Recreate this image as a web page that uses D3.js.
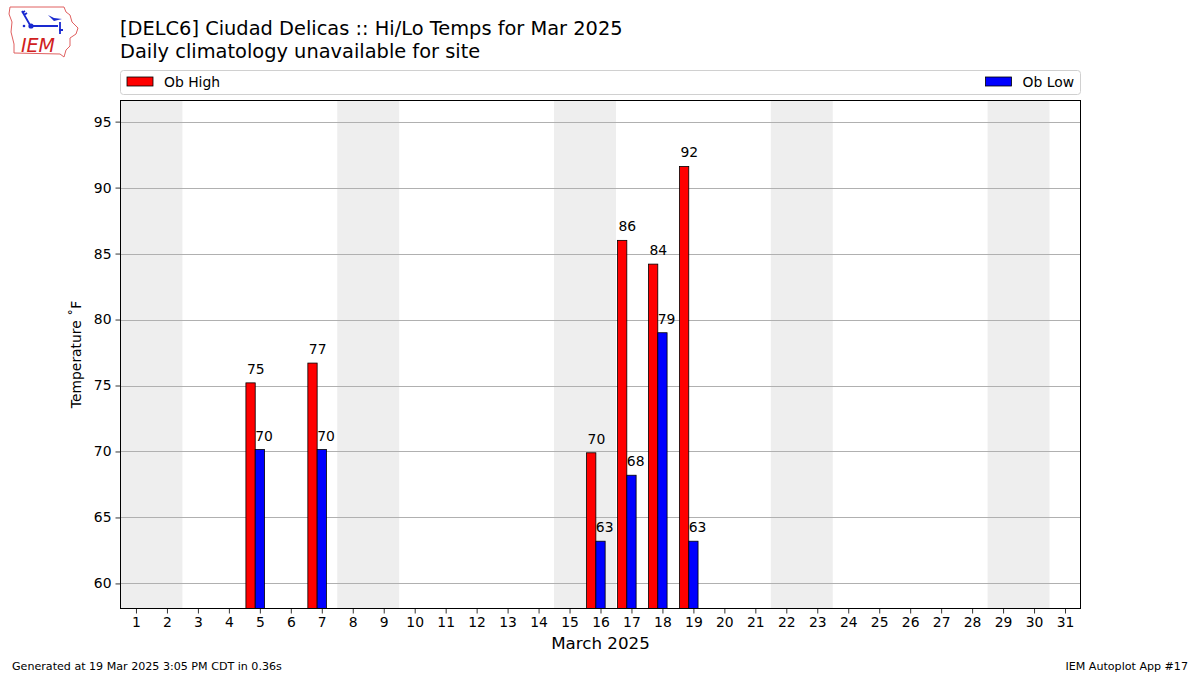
<!DOCTYPE html>
<html><head><meta charset="utf-8">
<script src="https://cdn.jsdelivr.net/npm/d3@7"></script>
<style>
body{margin:0;background:#fff;}
text{font-family:"DejaVu Sans",sans-serif;fill:#000;}
</style></head>
<body><svg id="c" width="1200" height="675"></svg>
<script>
const days = d3.range(1, 32);
const highDays = [5, 7, 16, 17, 18, 19];
const highVals = [75.2, 76.7, 69.9, 86.0, 84.2, 91.6];
const lowDays = [5, 7, 16, 17, 18, 19];
const lowVals = [70.15, 70.15, 63.2, 68.2, 79.0, 63.2];
const weekendStarts = [1, 8, 15, 22, 29];
const yTicks = [60, 65, 70, 75, 80, 85, 90, 95];

const svg = d3.select("#c");
const L = 120.5, R = 1080.5, T = 100.5, B = 608.5;
const x = d3.scaleLinear().domain([0.5, 31.5]).range([L, R]);
const y = d3.scaleLinear().domain([58.1, 96.6]).range([B, T]);
const bw = x(0.3) - x(0);

// weekend shading
svg.append("g").selectAll("rect").data(weekendStarts).join("rect")
  .attr("x", d => x(d - 0.5)).attr("width", d => x(d + 1.5) - x(d - 0.5))
  .attr("y", T).attr("height", B - T).attr("fill", "#eeeeee");

// grid
svg.append("g").selectAll("line").data(yTicks).join("line")
  .attr("x1", L).attr("x2", R).attr("y1", d => Math.round(y(d)) + 0.5).attr("y2", d => Math.round(y(d)) + 0.5)
  .attr("stroke", "#b0b0b0").attr("stroke-width", 1);

// bars
svg.append("g").selectAll("rect").data(highDays.map((d, i) => [d, highVals[i]])).join("rect")
  .attr("x", d => x(d[0] - 0.45)).attr("width", bw)
  .attr("y", d => y(d[1])).attr("height", d => B - y(d[1]))
  .attr("fill", "#ff0000").attr("stroke", "#000").attr("stroke-width", 0.8);
svg.append("g").selectAll("rect").data(lowDays.map((d, i) => [d, lowVals[i]])).join("rect")
  .attr("x", d => x(d[0] - 0.15)).attr("width", bw)
  .attr("y", d => y(d[1])).attr("height", d => B - y(d[1]))
  .attr("fill", "#0000ff").attr("stroke", "#000").attr("stroke-width", 0.8);

// labels
svg.append("g").selectAll("text").data(highDays.map((d, i) => [d, highVals[i]])).join("text")
  .attr("x", d => x(d[0] - 0.45) + 1).attr("y", d => y(d[1]) - 9)
  .attr("font-size", 13.9).text(d => Math.round(d[1]));
svg.append("g").selectAll("text").data(lowDays.map((d, i) => [d, lowVals[i]])).join("text")
  .attr("x", d => x(d[0] - 0.15)).attr("y", d => y(d[1]) - 9)
  .attr("font-size", 13.9).text(d => Math.round(d[1]));

// axes
const xa = svg.append("g").attr("transform", `translate(0,${B})`)
  .call(d3.axisBottom(x).tickValues(days).tickFormat(d3.format("d")).tickSize(5).tickPadding(4));
const ya = svg.append("g").attr("transform", `translate(${L},0)`)
  .call(d3.axisLeft(y).tickValues(yTicks).tickSize(5).tickPadding(4));
[xa, ya].forEach(a => {
  a.select(".domain").remove();
  a.selectAll("text").attr("font-size", 13.9).attr("font-family", "DejaVu Sans").attr("fill", "#000");
  a.selectAll("line").attr("stroke", "#000").attr("stroke-width", 0.8);
});
svg.append("rect").attr("x", L).attr("y", T).attr("width", R - L).attr("height", B - T)
  .attr("fill", "none").attr("stroke", "#000").attr("stroke-width", 1);

// axis labels
svg.append("text").attr("x", x(16)).attr("y", 649).attr("text-anchor", "middle")
  .attr("font-size", 16.7).text("March 2025");
svg.append("text").attr("transform", `translate(81,${(T + B) / 2}) rotate(-90)`).attr("text-anchor", "middle")
  .attr("font-size", 13.9).text("Temperature ˚F");

// titles
svg.append("text").attr("x", 120).attr("y", 35).attr("font-size", 19.4)
  .text("[DELC6] Ciudad Delicas :: Hi/Lo Temps for Mar 2025");
svg.append("text").attr("x", 120).attr("y", 58).attr("font-size", 19.4)
  .text("Daily climatology unavailable for site");

// legend
svg.append("rect").attr("x", 120.5).attr("y", 70.5).attr("width", 960).attr("height", 24).attr("rx", 3)
  .attr("fill", "#fff").attr("stroke", "#d0d0d0");
svg.append("rect").attr("x", 127).attr("y", 77).attr("width", 26).attr("height", 9)
  .attr("fill", "#ff0000").attr("stroke", "#000").attr("stroke-width", 0.8);
svg.append("text").attr("x", 164).attr("y", 87).attr("font-size", 13.9).text("Ob High");
svg.append("rect").attr("x", 985.5).attr("y", 77).attr("width", 26).attr("height", 9)
  .attr("fill", "#0000ff").attr("stroke", "#000").attr("stroke-width", 0.8);
svg.append("text").attr("x", 1074).attr("y", 87).attr("font-size", 13.9).attr("text-anchor", "end").text("Ob Low");

// footer
svg.append("text").attr("x", 12).attr("y", 670).attr("font-size", 11.1)
  .text("Generated at 19 Mar 2025 3:05 PM CDT in 0.36s");
svg.append("text").attr("x", 1188).attr("y", 670).attr("font-size", 11.1).attr("text-anchor", "end")
  .text("IEM Autoplot App #17");

// logo (approximation of IEM Iowa logo)
const lg = svg.append("g");
lg.append("path").attr("d", "M10,7 L64,7 L66,12 L70,15 L72,22 L78,28 L76,34 L70,38 L70,46 L66,50 L64,57 L60,54 L14,53 L14,44 L11,32 L12,22 L9,14 Z")
  .attr("fill", "#fff").attr("stroke", "#e06060").attr("stroke-width", 1);
lg.append("path").attr("d", "M22,11 L30,25 M22,13 L25,11 M24,15 L27,13 M31,26 L58,26 M60,22 L60,34 M59,30 L63,30")
  .attr("stroke", "#1a2ad0").attr("stroke-width", 1.8).attr("fill", "none");
lg.append("path").attr("d", "M48,15 L54,18 L62,19 L54,21 Z").attr("fill", "#1a2ad0");
lg.append("circle").attr("cx", 31).attr("cy", 26).attr("r", 2.6).attr("fill", "#1a2ad0");
lg.append("circle").attr("cx", 24).attr("cy", 26).attr("r", 1.3).attr("fill", "#1a2ad0");
lg.append("text").attr("x", 21).attr("y", 52).attr("font-family", "Liberation Serif").attr("font-style", "italic")
  .attr("font-size", 19).style("fill", "#d02020").text("IEM");
</script></body></html>
